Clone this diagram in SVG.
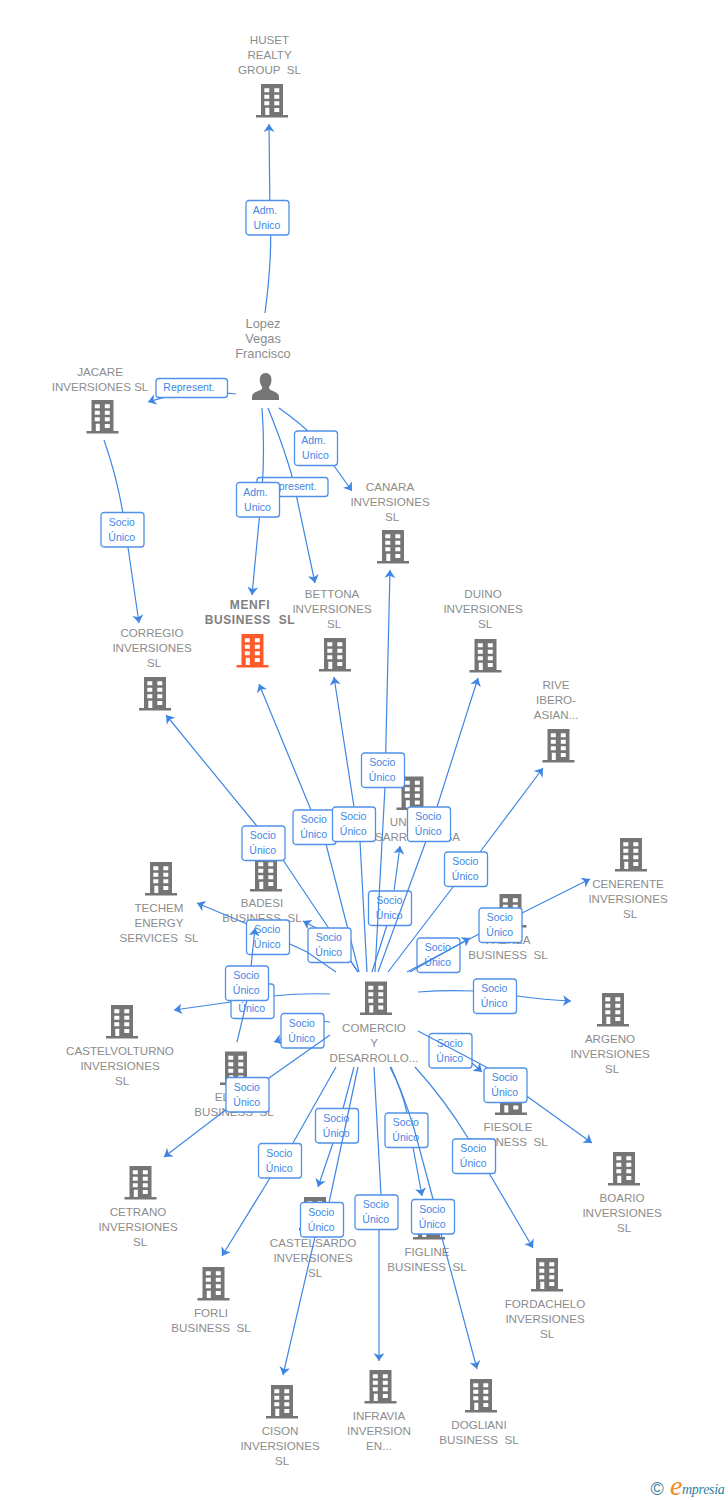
<svg xmlns="http://www.w3.org/2000/svg" width="728" height="1500" viewBox="0 0 728 1500">
<style>
text{font-family:"Liberation Sans",Arial,sans-serif;white-space:pre}
.n{font-size:11.6px;fill:#8c8c8c;text-anchor:middle}
.p{font-size:12.8px;fill:#8c8c8c;text-anchor:middle}
.m{font-size:12px;font-weight:bold;fill:#808080;text-anchor:middle;letter-spacing:.6px}
.e{fill:none;stroke:#3f86e4;stroke-width:1.2;marker-end:url(#a)}
.b{fill:#fff;stroke:#4f90e8;stroke-width:1.3}
.l{font-size:10.5px;fill:#3f86e4;text-anchor:middle}
.bg{fill:#757575}.or{fill:#ff5a2a}
</style>
<defs>
<marker id="a" markerUnits="userSpaceOnUse" markerWidth="9" markerHeight="12" refX="8" refY="6" orient="auto"><path d="M8,6 L0,.5 L2.2,6 L0,11.5 Z" fill="#3f86e4"/></marker>
<path id="bld" fill-rule="evenodd" d="M5,0 H27 V31 H32 V33.500 H0 V31 H5 Z M8.300,4.300 V8.300 H13.300 V4.300 Z M18.300,4.300 V8.300 H23.300 V4.300 Z M8.300,10.700 V14.700 H13.300 V10.700 Z M18.300,10.700 V14.700 H23.300 V10.700 Z M8.300,17.300 V21.300 H13.300 V17.300 Z M18.300,17.300 V21.300 H23.300 V17.300 Z M9.300,23.700 V31 H13.300 V23.700 Z M18.300,24 V28 H23.300 V24 Z"/>
<g id="sun"><rect class="b" x="0" y="0" width="43" height="34.500" rx="3"/><text class="l" x="20.800" y="13.200">Socio</text><text class="l" x="20.800" y="28.200">Único</text></g>
<g id="adm"><rect class="b" x="0" y="0" width="43" height="34.500" rx="3"/><text class="l" x="19" y="13.200">Adm.</text><text class="l" x="21" y="28.200">Unico</text></g>
</defs>

<g id="huset"><text class="n" x="269.500" y="44">HUSET</text><text class="n" x="269.500" y="59">REALTY</text><text class="n" x="269.500" y="74">GROUP  SL</text><use href="#bld" class="bg" x="256" y="84"/></g>
<g id="lopez"><text class="p" x="263" y="328">Lopez</text><text class="p" x="263" y="343">Vegas</text><text class="p" x="263" y="358">Francisco</text><path class="bg" d="M265.700,373 C269.500,373 271.500,376 271.500,380 C271.500,383 270.300,385.500 269,387 C269,389 270,390 273,391 C277,392.500 279,394 279,397 V400 H252 V397 C252,394 254,392.500 258,391 C261,390 262.300,389 262.300,387 C261,385.500 259.800,383 259.800,380 C259.800,376 261.800,373 265.700,373 Z"/></g>
<g id="jacare"><text class="n" x="100" y="375.500">JACARE</text><text class="n" x="100" y="390.500">INVERSIONES SL</text><use href="#bld" class="bg" x="86.500" y="400"/></g>
<g id="canara"><text class="n" x="390" y="490.500">CANARA</text><text class="n" x="390" y="505.500">INVERSIONES</text><text class="n" x="392" y="520.500">SL</text><use href="#bld" class="bg" x="377" y="530"/></g>
<g id="menfi"><text class="m" x="250" y="609">MENFI</text><text class="m" x="250" y="624">BUSINESS  SL</text><use href="#bld" class="or" x="236.500" y="634"/></g>
<g id="bettona"><text class="n" x="332" y="598">BETTONA</text><text class="n" x="332" y="613">INVERSIONES</text><text class="n" x="334" y="628">SL</text><use href="#bld" class="bg" x="319" y="638"/></g>
<g id="duino"><text class="n" x="483" y="598">DUINO</text><text class="n" x="483" y="613">INVERSIONES</text><text class="n" x="485" y="628">SL</text><use href="#bld" class="bg" x="469.500" y="639"/></g>
<g id="rive"><text class="n" x="556" y="689">RIVE</text><text class="n" x="556" y="704">IBERO-</text><text class="n" x="556" y="719">ASIAN...</text><use href="#bld" class="bg" x="542.500" y="729"/></g>
<g id="corregio"><text class="n" x="152" y="637">CORREGIO</text><text class="n" x="152" y="652">INVERSIONES</text><text class="n" x="154" y="667">SL</text><use href="#bld" class="bg" x="139" y="677"/></g>
<g id="union"><text class="n" x="408.500" y="826">UNION</text><text class="n" x="409.500" y="841">DESARROLLO  SA</text><use href="#bld" class="bg" x="396.500" y="776.500"/></g>
<g id="badesi"><text class="n" x="262" y="907">BADESI</text><text class="n" x="262" y="922">BUSINESS  SL</text><use href="#bld" class="bg" x="250" y="858"/></g>
<g id="techem"><text class="n" x="159" y="912">TECHEM</text><text class="n" x="159" y="927">ENERGY</text><text class="n" x="159" y="942">SERVICES  SL</text><use href="#bld" class="bg" x="145" y="862"/></g>
<g id="cenerente"><text class="n" x="628" y="888">CENERENTE</text><text class="n" x="628" y="903">INVERSIONES</text><text class="n" x="630" y="918">SL</text><use href="#bld" class="bg" x="615" y="838"/></g>
<g id="faenza"><text class="n" x="508" y="944">FAENZA</text><text class="n" x="508" y="959">BUSINESS  SL</text><use href="#bld" class="bg" x="494.500" y="894"/></g>
<g id="comercio"><text class="n" x="374" y="1032">COMERCIO</text><text class="n" x="374" y="1047">Y</text><text class="n" x="374" y="1062">DESARROLLO...</text><use href="#bld" class="bg" x="360" y="981.500"/></g>
<g id="argeno"><text class="n" x="610" y="1043">ARGENO</text><text class="n" x="610" y="1058">INVERSIONES</text><text class="n" x="612" y="1073">SL</text><use href="#bld" class="bg" x="597" y="993"/></g>
<g id="castelvolturno"><text class="n" x="120" y="1055">CASTELVOLTURNO</text><text class="n" x="120" y="1070">INVERSIONES</text><text class="n" x="122" y="1085">SL</text><use href="#bld" class="bg" x="106" y="1005"/></g>
<g id="elche"><text class="n" x="234" y="1101">ELCHE</text><text class="n" x="234" y="1116">BUSINESS  SL</text><use href="#bld" class="bg" x="220" y="1051.500"/></g>
<g id="fiesole"><text class="n" x="508" y="1131">FIESOLE</text><text class="n" x="508" y="1146">BUSINESS  SL</text><use href="#bld" class="bg" x="495" y="1081.500"/></g>
<g id="boario"><text class="n" x="622" y="1202">BOARIO</text><text class="n" x="622" y="1217">INVERSIONES</text><text class="n" x="624" y="1232">SL</text><use href="#bld" class="bg" x="608" y="1152"/></g>
<g id="cetrano"><text class="n" x="138" y="1216">CETRANO</text><text class="n" x="138" y="1231">INVERSIONES</text><text class="n" x="140" y="1246">SL</text><use href="#bld" class="bg" x="124.500" y="1166"/></g>
<g id="castelsardo"><text class="n" x="313" y="1247">CASTELSARDO</text><text class="n" x="313" y="1262">INVERSIONES</text><text class="n" x="315" y="1277">SL</text><use href="#bld" class="bg" x="299" y="1197"/></g>
<g id="figline"><text class="n" x="427" y="1256">FIGLINE</text><text class="n" x="427" y="1271">BUSINESS  SL</text><use href="#bld" class="bg" x="413" y="1206"/></g>
<g id="fordachelo"><text class="n" x="545" y="1308">FORDACHELO</text><text class="n" x="545" y="1323">INVERSIONES</text><text class="n" x="547" y="1338">SL</text><use href="#bld" class="bg" x="531" y="1258"/></g>
<g id="forli"><text class="n" x="211" y="1317">FORLI</text><text class="n" x="211" y="1332">BUSINESS  SL</text><use href="#bld" class="bg" x="197.500" y="1267"/></g>
<g id="cison"><text class="n" x="280" y="1435">CISON</text><text class="n" x="280" y="1450">INVERSIONES</text><text class="n" x="282" y="1465">SL</text><use href="#bld" class="bg" x="266" y="1385"/></g>
<g id="infravia"><text class="n" x="379" y="1420">INFRAVIA</text><text class="n" x="379" y="1435">INVERSION</text><text class="n" x="379" y="1450">EN...</text><use href="#bld" class="bg" x="364.500" y="1370"/></g>
<g id="dogliani"><text class="n" x="479" y="1429">DOGLIANI</text><text class="n" x="479" y="1444">BUSINESS  SL</text><use href="#bld" class="bg" x="465" y="1379"/></g>

<g id="connectors">
<path class="e" d="M265,313 C270,275 272,245 270,217 L269,124"/><use href="#adm" x="246" y="200.500"/>
<path class="e" d="M236,394 Q190,388 148,402"/><rect class="b" x="156" y="378.500" width="71.500" height="19" rx="3"/><text class="l" x="189" y="391">Represent.</text>
<path class="e" d="M279,408 Q300,423 312,435 L352,491"/><use href="#adm" x="294.500" y="431"/>
<path class="e" d="M268,408 Q285,450 293,480 L315,583"/><rect class="b" x="257" y="477.500" width="71" height="19" rx="3"/><text class="l" x="291" y="490">Represent.</text>
<path class="e" d="M262,408 Q265,450 262,490 L252,595"/><use href="#adm" x="236.500" y="482.500"/>
<path class="e" d="M104,440 Q118,480 124,520 L139,623"/><use href="#sun" x="101" y="512.500"/>
<path class="e" d="M358,972 L283,860 L265,836 L166,715"/><use href="#sun" x="242" y="826"/>
<path class="e" d="M359,972 L326,844 L311,810 L259,684"/><use href="#sun" x="293" y="810"/>
<path class="e" d="M367,972 L360,841 L354,807 L334,677"/><use href="#sun" x="332.500" y="807"/>
<path class="e" d="M372,972 L387,925 L394,891 L400,846"/><use href="#sun" x="368.500" y="891"/>
<path class="e" d="M375,972 L385,787 L386,740 L390,570"/><use href="#sun" x="361.500" y="753"/>
<path class="e" d="M378,972 L426,841 L437,807 L478,678"/><use href="#sun" x="407.500" y="807"/>
<path class="e" d="M388,972 L453,887 L480,852 L543,768"/><use href="#sun" x="444.500" y="852"/>
<path class="e" d="M358,972 Q345,950 320,930 L303,921"/><use href="#sun" x="308" y="928"/>
<path class="e" d="M336,972 L307,952 L247,924 L197,903"/><use href="#sun" x="246.500" y="920"/>
<use href="#sun" x="417" y="938"/>
<path class="e" d="M410,972 L470,938"/>
<path class="e" d="M407,972 L479,934 L522,913 L590,879"/><use href="#sun" x="479" y="908"/>
<path class="e" d="M330,994 Q300,993 273,996 L231,1002 L174,1010"/><use href="#sun" x="231" y="984"/>
<path class="e" d="M237,1042 L247,1000 L251,967 L255,928"/><use href="#sun" x="225.500" y="966"/>
<path class="e" d="M330,1022 L320,1021 Q295,1035 274,1042"/><use href="#sun" x="281" y="1013.500"/>
<path class="e" d="M330,1035 L269,1078 L223,1112 L164,1157"/><use href="#sun" x="226" y="1077.500"/>
<path class="e" d="M336,1067 L293,1143 L270,1178 L222,1256"/><use href="#sun" x="258.500" y="1143.500"/>
<path class="e" d="M354,1067 L340,1120 L333,1143 L318,1187"/><use href="#sun" x="315.500" y="1108.500"/>
<path class="e" d="M358,1067 L329,1203 L315,1237 L283,1375"/><use href="#sun" x="300.500" y="1202.500"/>
<path class="e" d="M374,1067 L381,1195 L379,1229 L379,1361"/><use href="#sun" x="355" y="1195"/>
<path class="e" d="M390,1067 Q402,1090 407,1113 L413,1147 L422,1196"/><use href="#sun" x="385" y="1113"/>
<path class="e" d="M391,1067 Q410,1110 419,1147 L433,1199 L441,1234 L477,1369"/><use href="#sun" x="411.500" y="1199.500"/>
<path class="e" d="M415,1067 Q445,1100 468,1138 L489,1173 L533,1248"/><use href="#sun" x="452.500" y="1139"/>
<path class="e" d="M418,992 Q445,990 473,991 L517,996 Q545,1000 571,1001"/><use href="#sun" x="473.500" y="979"/>
<use href="#sun" x="429" y="1033.500"/>
<path class="e" d="M472,1063 L482,1072"/>
<path class="e" d="M418,1031 L488,1068 L528,1097 L592,1143"/><use href="#sun" x="484" y="1068"/>
</g>

<g id="watermark"><text x="650.500" y="1495" style="font-size:18px;fill:#3f7f9c;font-family:'Liberation Sans',sans-serif">©</text><text x="670" y="1495" style="font-family:'Liberation Serif',serif;font-style:italic;font-size:28px;fill:#f08a24">e</text><text x="682" y="1494" style="font-family:'Liberation Serif',serif;font-style:italic;font-size:14px;fill:#2f7f9f;letter-spacing:-.3px">mpresia</text></g>
</svg>
